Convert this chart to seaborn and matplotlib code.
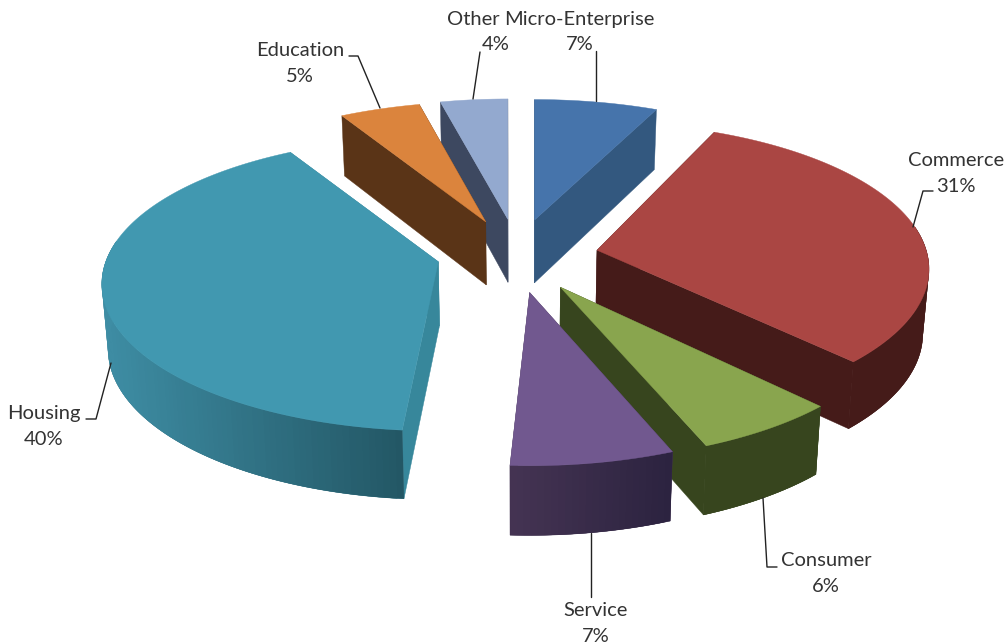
import numpy as np
import matplotlib
matplotlib.use("Agg")
import matplotlib.pyplot as plt
import seaborn as sns

# Loan portfolio shares, clockwise from twelve o'clock
categories = ["Micro-Enterprise", "Commerce", "Consumer", "Service", "Housing", "Education", "Other"]
shares = [7, 31, 6, 7, 40.4, 4.6, 4]

top_colors = ["#4674AB", "#AA4643", "#89A54E", "#71588F", "#4198B0", "#DB843D", "#93A9CF"]
wall_left = ["#33587F", "#451B19", "#37451E", "#453453", "#3E8DA4", "#5A3417", "#3D4860"]
wall_right = ["#33587F", "#451B19", "#37451E", "#2C2340", "#235765", "#5A3417", "#3D4860"]
cut_colors = ["#33587F", "#451B19", "#37451E", "#453453", "#37879B", "#5A3417", "#3D4860"]

# Back-to-front painting order (indices into the slices)
paint_order = [0, 1, 2, 3, 6, 5, 4]

# Projection of the tilted, exploded pie, in pixels
CENTER = np.array([517.0, 256.0])
EXPLODE = np.array([81.0, 37.0])
RX, RY, PERSP = 330.0, 142.0, 0.18
DEPTH = 64.0
FOOT_SCALE = np.array([0.985, 1.027])

# Per-slice perspective corrections: apex and rim offsets in pixels, edge trims in degrees
apex_shift = [(0, 0), (0, 0), (0, 0), (0, 0), (0, -3), (0, 0), (1, 0)]
rim_shift = [(0, 0), (-3.5, -7.5), (0, 0), (0, 0), (-1, -4), (0, 0), (0, 0)]
edge_trim = [(0, 0.2), (0, 0), (0, 0), (0.5, -0.8), (1.4, 0), (0.7, 0.7), (0.5, 0)]

# Label text: centre x, centre y of the name line, centre x, y of the percent line
label_pos = {
    "Micro-Enterprise": (579, 19, 580, 44),
    "Commerce": (956, 160, 956, 186),
    "Consumer": (826, 561, 826, 586),
    "Service": (596, 611, 596, 636),
    "Housing": (44, 413, 44, 439),
    "Education": (300, 50, 300, 76),
    "Other": (473, 19, 496, 44),
}
# Leader lines: vertices from label to slice
leaders = {
    "Micro-Enterprise": [(596, 51), (596, 101)],
    "Commerce": [(933, 191), (923, 191), (913, 227)],
    "Consumer": [(777, 567), (767, 567), (763, 498)],
    "Service": [(591, 597), (591, 533)],
    "Housing": [(86, 419), (96, 419), (111, 363)],
    "Education": [(349, 56), (358, 56), (380, 108)],
    "Other": [(480, 52), (473, 99)],
}

sns.set_theme(style="white")
plt.rcParams["font.family"] = ["Lato", "DejaVu Sans"]

fig = plt.figure(figsize=(10.08, 6.44), dpi=100)
ax = fig.add_axes([0, 0, 1, 1])
ax.set_xlim(0, 1008)
ax.set_ylim(644, 0)
ax.axis("off")


def rim_point(origin, theta):
    """Screen position of the rim at angle theta around the given origin."""
    x, yv = np.sin(theta), -np.cos(theta)
    w = 1 - PERSP * yv
    return np.array([origin[0] + RX * x / w, origin[1] + RY * yv / w])


def foot(p):
    """Matching point on the underside of the pie."""
    return CENTER + (np.asarray(p) - CENTER) * FOOT_SCALE + np.array([0, DEPTH])


def fill(points, color, z):
    pts = np.asarray(points)
    ax.fill(pts[:, 0], pts[:, 1], facecolor=color, edgecolor=color, linewidth=0.3, zorder=z)


fractions = np.asarray(shares) / np.sum(shares)
edges = np.concatenate([[0], np.cumsum(fractions)]) * 2 * np.pi

z = 1
for i in paint_order:
    a0 = edges[i] + np.radians(edge_trim[i][0])
    a1 = edges[i + 1] + np.radians(edge_trim[i][1])
    mid = (edges[i] + edges[i + 1]) / 2
    tip = CENTER + EXPLODE * np.array([np.sin(mid), -np.cos(mid)]) + np.array(apex_shift[i])
    origin = tip + np.array(rim_shift[i])
    thetas = np.linspace(a0, a1, max(int((a1 - a0) * 60), 12))
    rim = [rim_point(origin, t) for t in thetas]

    # Radial cut faces
    for p in (rim[0], rim[-1]):
        fill([tip, p, foot(p), foot(tip)], cut_colors[i], z)
    z += 1

    # Outer wall, following the arc and shaded by horizontal position
    front = [k for k in range(len(thetas)) if -np.cos(thetas[k]) > -0.12]
    if len(front) > 1:
        upper = [rim[k] for k in front]
        lower = [foot(p) for p in upper]
        mean_color = sns.blend_palette([wall_left[i], wall_right[i]], n_colors=3)[1]
        fill(upper + lower[::-1], mean_color, z)
        z += 1
        ramp = sns.blend_palette([wall_left[i], wall_right[i]], n_colors=64)
        xs = np.array([p[0] for p in upper])
        span = max(xs.max() - xs.min(), 1.0)
        # Each band runs under the next one so no seam shows between them
        for k in range(len(upper) - 1):
            stop = min(k + 2, len(upper) - 1)
            pts = np.asarray(upper[k:stop + 1] + lower[k:stop + 1][::-1])
            shade = ramp[int(63 * (xs[k] - xs.min()) / span)]
            ax.fill(pts[:, 0], pts[:, 1], facecolor=shade, edgecolor="none", linewidth=0, zorder=z)
    z += 1

    # Top face
    fill([tip] + rim, top_colors[i], z)
    z += 1

text_color = "#333333"
for name, share in zip(categories, shares):
    nx, ny, px, py = label_pos[name]
    ax.text(nx, ny, name, ha="center", va="center", fontsize=14.5, color=text_color, zorder=z)
    ax.text(px, py, f"{share:.0f}%", ha="center", va="center", fontsize=14.5, color=text_color, zorder=z)
    pts = np.array(leaders[name])
    ax.plot(pts[:, 0], pts[:, 1], color="#222222", linewidth=1.0, zorder=z)

fig.savefig("out.png", dpi=100, facecolor="white")
